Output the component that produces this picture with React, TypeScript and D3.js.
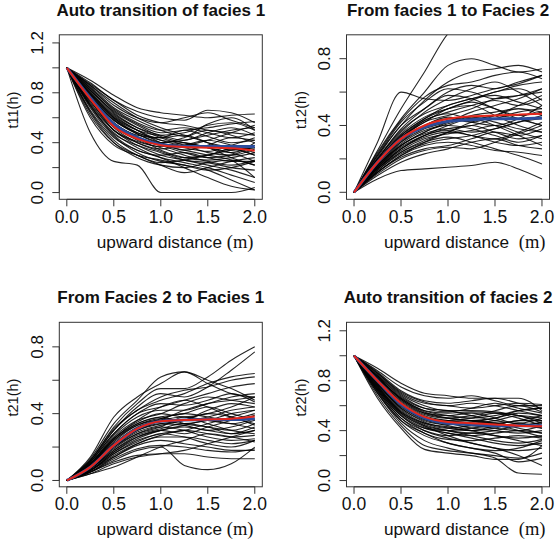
import React from "react";
import * as d3 from "d3";

// upward distance sample points (m)
const distances = [0, 0.25, 0.5, 0.75, 1.0, 1.25, 1.5, 1.75, 2.0];
const xTicks = [0, 0.5, 1.0, 1.5, 2.0];

// ---- t11: auto transition of facies 1 ----
const t11Sims = [
  [1, 0.48, 0.25, 0.22, 0.0, 0.0, 0.0, 0.0, 0.04],
  [1, 0.9, 0.78, 0.68, 0.64, 0.62, 0.6, 0.62, 0.63],
  [1, 0.88, 0.74, 0.65, 0.6, 0.58, 0.66, 0.64, 0.56],
  [1, 0.86, 0.7, 0.6, 0.56, 0.6, 0.64, 0.58, 0.52],
  [1, 0.85, 0.68, 0.58, 0.5, 0.45, 0.55, 0.6, 0.5],
  [1, 0.84, 0.66, 0.55, 0.48, 0.5, 0.52, 0.55, 0.57],
  [1, 0.82, 0.63, 0.52, 0.46, 0.42, 0.48, 0.52, 0.46],
  [1, 0.8, 0.62, 0.5, 0.42, 0.38, 0.42, 0.48, 0.54],
  [1, 0.8, 0.6, 0.48, 0.44, 0.5, 0.45, 0.4, 0.42],
  [1, 0.78, 0.58, 0.47, 0.4, 0.36, 0.33, 0.38, 0.44],
  [1, 0.78, 0.56, 0.45, 0.38, 0.32, 0.28, 0.3, 0.38],
  [1, 0.76, 0.55, 0.44, 0.4, 0.44, 0.5, 0.46, 0.4],
  [1, 0.75, 0.54, 0.42, 0.36, 0.3, 0.25, 0.22, 0.26],
  [1, 0.74, 0.52, 0.4, 0.33, 0.28, 0.3, 0.35, 0.3],
  [1, 0.74, 0.5, 0.38, 0.3, 0.26, 0.22, 0.18, 0.12],
  [1, 0.72, 0.5, 0.4, 0.35, 0.38, 0.42, 0.38, 0.32],
  [1, 0.7, 0.48, 0.36, 0.28, 0.24, 0.2, 0.14, 0.08],
  [1, 0.7, 0.46, 0.34, 0.3, 0.32, 0.28, 0.25, 0.25],
  [1, 0.68, 0.45, 0.32, 0.25, 0.22, 0.18, 0.1, 0.02],
  [1, 0.66, 0.44, 0.34, 0.28, 0.2, 0.12, 0.05, 0.02],
  [1, 0.65, 0.42, 0.3, 0.24, 0.26, 0.3, 0.34, 0.36],
  [1, 0.62, 0.4, 0.3, 0.22, 0.16, 0.2, 0.25, 0.28],
  [1, 0.6, 0.38, 0.3, 0.26, 0.22, 0.18, 0.2, 0.25],
  [1, 0.82, 0.65, 0.54, 0.45, 0.4, 0.36, 0.32, 0.25],
  [1, 0.86, 0.72, 0.6, 0.52, 0.46, 0.4, 0.36, 0.3],
  [1, 0.84, 0.67, 0.56, 0.5, 0.52, 0.48, 0.44, 0.48],
  [1, 0.77, 0.58, 0.48, 0.42, 0.4, 0.36, 0.28, 0.22],
  [1, 0.79, 0.6, 0.5, 0.46, 0.48, 0.54, 0.56, 0.5],
  [1, 0.73, 0.53, 0.43, 0.38, 0.34, 0.3, 0.26, 0.12],
  [1, 0.76, 0.56, 0.46, 0.44, 0.46, 0.4, 0.34, 0.36],
  [1, 0.71, 0.5, 0.41, 0.37, 0.4, 0.36, 0.32, 0.4],
  [1, 0.81, 0.61, 0.5, 0.4, 0.34, 0.38, 0.44, 0.42],
  [1, 0.69, 0.47, 0.38, 0.32, 0.26, 0.24, 0.2, 0.18],
  [1, 0.87, 0.74, 0.62, 0.56, 0.54, 0.5, 0.48, 0.46],
  [1, 0.79, 0.59, 0.47, 0.4, 0.42, 0.46, 0.5, 0.52],
  [1, 0.64, 0.4, 0.28, 0.22, 0.2, 0.24, 0.26, 0.22],
  [1, 0.75, 0.55, 0.44, 0.34, 0.28, 0.26, 0.28, 0.32],
  [1, 0.83, 0.64, 0.52, 0.44, 0.38, 0.32, 0.3, 0.35],
];
const t11Blue = [1, 0.76, 0.55, 0.44, 0.385, 0.37, 0.37, 0.37, 0.37];
const t11Red = [1, 0.75, 0.53, 0.43, 0.38, 0.365, 0.36, 0.355, 0.335];

// ---- t12: from facies 1 to facies 2 ----
const t12Sims = [
  [0, 0.25, 0.5, 0.72, 0.95, 1.05, 1.1, 1.1, 1.1],
  [0, 0.3, 0.6, 0.56, 0.55, 0.58, 0.62, 0.65, 0.7],
  [0, 0.24, 0.44, 0.6, 0.76, 0.8, 0.76, 0.72, 0.74],
  [0, 0.22, 0.4, 0.55, 0.66, 0.72, 0.74, 0.76, 0.72],
  [0, 0.2, 0.38, 0.5, 0.6, 0.64, 0.62, 0.66, 0.7],
  [0, 0.2, 0.36, 0.48, 0.56, 0.62, 0.66, 0.6, 0.52],
  [0, 0.19, 0.34, 0.44, 0.52, 0.56, 0.6, 0.64, 0.66],
  [0, 0.18, 0.33, 0.42, 0.5, 0.54, 0.5, 0.46, 0.48],
  [0, 0.18, 0.32, 0.42, 0.46, 0.5, 0.56, 0.58, 0.6],
  [0, 0.17, 0.31, 0.4, 0.45, 0.42, 0.4, 0.44, 0.52],
  [0, 0.17, 0.3, 0.38, 0.42, 0.46, 0.48, 0.5, 0.46],
  [0, 0.16, 0.29, 0.37, 0.4, 0.38, 0.34, 0.3, 0.34],
  [0, 0.16, 0.28, 0.36, 0.41, 0.45, 0.42, 0.38, 0.36],
  [0, 0.15, 0.27, 0.34, 0.38, 0.4, 0.44, 0.48, 0.5],
  [0, 0.15, 0.26, 0.33, 0.36, 0.34, 0.3, 0.28, 0.3],
  [0, 0.14, 0.25, 0.32, 0.35, 0.37, 0.4, 0.36, 0.32],
  [0, 0.14, 0.24, 0.3, 0.33, 0.3, 0.26, 0.22, 0.17],
  [0, 0.13, 0.23, 0.29, 0.32, 0.34, 0.38, 0.42, 0.44],
  [0, 0.12, 0.22, 0.28, 0.3, 0.28, 0.25, 0.24, 0.22],
  [0, 0.12, 0.21, 0.26, 0.28, 0.32, 0.36, 0.34, 0.38],
  [0, 0.11, 0.2, 0.25, 0.27, 0.26, 0.3, 0.35, 0.4],
  [0, 0.1, 0.18, 0.23, 0.26, 0.3, 0.32, 0.28, 0.26],
  [0, 0.08, 0.13, 0.14, 0.15, 0.16, 0.18, 0.14, 0.08],
  [0, 0.22, 0.42, 0.54, 0.62, 0.6, 0.56, 0.58, 0.62],
  [0, 0.21, 0.4, 0.5, 0.58, 0.56, 0.5, 0.44, 0.4],
  [0, 0.19, 0.35, 0.45, 0.5, 0.52, 0.46, 0.4, 0.36],
  [0, 0.17, 0.32, 0.43, 0.48, 0.52, 0.55, 0.52, 0.56],
  [0, 0.16, 0.3, 0.4, 0.44, 0.42, 0.46, 0.52, 0.58],
  [0, 0.15, 0.28, 0.36, 0.42, 0.48, 0.52, 0.56, 0.62],
  [0, 0.14, 0.26, 0.34, 0.4, 0.44, 0.4, 0.34, 0.28],
  [0, 0.13, 0.24, 0.31, 0.36, 0.4, 0.36, 0.32, 0.34],
  [0, 0.18, 0.33, 0.43, 0.47, 0.44, 0.46, 0.5, 0.48],
  [0, 0.2, 0.37, 0.47, 0.52, 0.56, 0.58, 0.54, 0.5],
  [0, 0.16, 0.28, 0.35, 0.38, 0.36, 0.38, 0.42, 0.46],
  [0, 0.12, 0.22, 0.3, 0.36, 0.42, 0.46, 0.44, 0.4],
  [0, 0.23, 0.43, 0.57, 0.64, 0.66, 0.7, 0.72, 0.68],
  [0, 0.14, 0.26, 0.34, 0.37, 0.34, 0.32, 0.36, 0.42],
  [0, 0.18, 0.34, 0.44, 0.5, 0.55, 0.6, 0.62, 0.55],
];
const t12Blue = [0, 0.18, 0.32, 0.39, 0.425, 0.435, 0.44, 0.44, 0.445];
const t12Red = [0, 0.18, 0.32, 0.4, 0.44, 0.455, 0.46, 0.465, 0.47];

// ---- t21: from facies 2 to facies 1 ----
const t21Sims = [
  [0, 0.14, 0.38, 0.5, 0.58, 0.65, 0.6, 0.55, 0.48],
  [0, 0.13, 0.34, 0.48, 0.62, 0.65, 0.58, 0.52, 0.5],
  [0, 0.12, 0.32, 0.46, 0.55, 0.55, 0.62, 0.72, 0.8],
  [0, 0.12, 0.3, 0.44, 0.52, 0.5, 0.56, 0.66, 0.77],
  [0, 0.11, 0.3, 0.42, 0.48, 0.52, 0.58, 0.62, 0.64],
  [0, 0.11, 0.28, 0.4, 0.44, 0.48, 0.52, 0.56, 0.58],
  [0, 0.1, 0.27, 0.38, 0.42, 0.42, 0.46, 0.5, 0.52],
  [0, 0.1, 0.26, 0.36, 0.4, 0.46, 0.5, 0.48, 0.46],
  [0, 0.09, 0.25, 0.35, 0.4, 0.38, 0.4, 0.44, 0.5],
  [0, 0.09, 0.24, 0.34, 0.38, 0.4, 0.44, 0.4, 0.36],
  [0, 0.09, 0.23, 0.33, 0.36, 0.34, 0.36, 0.4, 0.42],
  [0, 0.08, 0.22, 0.32, 0.36, 0.38, 0.34, 0.3, 0.28],
  [0, 0.08, 0.21, 0.3, 0.34, 0.33, 0.3, 0.32, 0.36],
  [0, 0.08, 0.2, 0.29, 0.33, 0.36, 0.4, 0.38, 0.33],
  [0, 0.07, 0.19, 0.28, 0.32, 0.3, 0.26, 0.24, 0.25],
  [0, 0.07, 0.18, 0.27, 0.31, 0.34, 0.32, 0.28, 0.3],
  [0, 0.07, 0.17, 0.26, 0.3, 0.28, 0.32, 0.36, 0.4],
  [0, 0.06, 0.16, 0.24, 0.28, 0.3, 0.34, 0.38, 0.42],
  [0, 0.06, 0.15, 0.22, 0.26, 0.26, 0.24, 0.22, 0.24],
  [0, 0.06, 0.14, 0.21, 0.24, 0.22, 0.2, 0.18, 0.18],
  [0, 0.05, 0.13, 0.19, 0.21, 0.2, 0.18, 0.17, 0.19],
  [0, 0.05, 0.12, 0.18, 0.2, 0.09, 0.065, 0.1, 0.2],
  [0, 0.05, 0.11, 0.15, 0.16, 0.16, 0.14, 0.13, 0.13],
  [0, 0.04, 0.1, 0.14, 0.16, 0.18, 0.22, 0.26, 0.3],
  [0, 0.04, 0.08, 0.14, 0.2, 0.24, 0.28, 0.26, 0.23],
  [0, 0.07, 0.2, 0.3, 0.36, 0.42, 0.46, 0.48, 0.5],
  [0, 0.1, 0.25, 0.36, 0.44, 0.48, 0.44, 0.38, 0.34],
  [0, 0.09, 0.24, 0.33, 0.37, 0.36, 0.38, 0.42, 0.44],
  [0, 0.06, 0.17, 0.25, 0.3, 0.33, 0.36, 0.34, 0.31],
  [0, 0.05, 0.14, 0.22, 0.27, 0.3, 0.28, 0.26, 0.27],
  [0, 0.08, 0.21, 0.31, 0.37, 0.4, 0.38, 0.36, 0.39],
  [0, 0.11, 0.28, 0.4, 0.46, 0.45, 0.48, 0.52, 0.47],
  [0, 0.09, 0.22, 0.3, 0.34, 0.36, 0.42, 0.46, 0.44],
  [0, 0.06, 0.16, 0.23, 0.28, 0.26, 0.22, 0.2, 0.24],
  [0, 0.08, 0.2, 0.28, 0.32, 0.38, 0.36, 0.34, 0.37],
  [0, 0.12, 0.31, 0.42, 0.5, 0.54, 0.56, 0.6, 0.62],
  [0, 0.07, 0.18, 0.26, 0.3, 0.32, 0.3, 0.28, 0.32],
  [0, 0.1, 0.25, 0.34, 0.38, 0.34, 0.32, 0.3, 0.34],
];
const t21Blue = [0, 0.08, 0.21, 0.31, 0.355, 0.362, 0.365, 0.365, 0.37];
const t21Red = [0, 0.08, 0.21, 0.31, 0.355, 0.362, 0.365, 0.37, 0.383];

// ---- t22: auto transition of facies 2 ----
const t22Sims = [
  [1, 0.9, 0.78, 0.7, 0.68, 0.66, 0.66, 0.62, 0.58],
  [1, 0.88, 0.75, 0.68, 0.66, 0.68, 0.64, 0.6, 0.6],
  [1, 0.87, 0.72, 0.64, 0.62, 0.64, 0.66, 0.66, 0.56],
  [1, 0.86, 0.7, 0.62, 0.6, 0.58, 0.6, 0.62, 0.61],
  [1, 0.85, 0.69, 0.6, 0.56, 0.56, 0.55, 0.52, 0.48],
  [1, 0.84, 0.68, 0.58, 0.55, 0.58, 0.62, 0.58, 0.54],
  [1, 0.83, 0.66, 0.56, 0.52, 0.5, 0.52, 0.56, 0.58],
  [1, 0.82, 0.65, 0.55, 0.5, 0.48, 0.46, 0.48, 0.52],
  [1, 0.81, 0.64, 0.54, 0.52, 0.54, 0.5, 0.45, 0.42],
  [1, 0.8, 0.62, 0.52, 0.48, 0.46, 0.48, 0.52, 0.5],
  [1, 0.8, 0.61, 0.5, 0.46, 0.42, 0.4, 0.38, 0.4],
  [1, 0.79, 0.6, 0.5, 0.48, 0.5, 0.54, 0.52, 0.46],
  [1, 0.78, 0.58, 0.48, 0.44, 0.4, 0.36, 0.34, 0.36],
  [1, 0.77, 0.57, 0.46, 0.42, 0.44, 0.46, 0.42, 0.38],
  [1, 0.76, 0.56, 0.45, 0.4, 0.36, 0.32, 0.3, 0.33],
  [1, 0.75, 0.54, 0.44, 0.4, 0.38, 0.4, 0.44, 0.46],
  [1, 0.74, 0.53, 0.42, 0.38, 0.34, 0.3, 0.28, 0.3],
  [1, 0.73, 0.52, 0.4, 0.34, 0.3, 0.26, 0.2, 0.12],
  [1, 0.72, 0.5, 0.38, 0.33, 0.32, 0.34, 0.36, 0.34],
  [1, 0.71, 0.48, 0.36, 0.3, 0.26, 0.22, 0.15, 0.18],
  [1, 0.7, 0.46, 0.32, 0.26, 0.22, 0.18, 0.06, 0.05],
  [1, 0.68, 0.44, 0.28, 0.24, 0.22, 0.2, 0.18, 0.22],
  [1, 0.66, 0.42, 0.25, 0.22, 0.2, 0.17, 0.17, 0.28],
  [1, 0.82, 0.66, 0.56, 0.54, 0.55, 0.54, 0.5, 0.44],
  [1, 0.84, 0.67, 0.58, 0.56, 0.52, 0.48, 0.46, 0.5],
  [1, 0.78, 0.59, 0.49, 0.45, 0.47, 0.5, 0.56, 0.58],
  [1, 0.76, 0.55, 0.46, 0.43, 0.4, 0.42, 0.46, 0.42],
  [1, 0.74, 0.54, 0.43, 0.38, 0.36, 0.38, 0.4, 0.38],
  [1, 0.81, 0.63, 0.53, 0.5, 0.52, 0.56, 0.6, 0.55],
  [1, 0.79, 0.6, 0.49, 0.46, 0.44, 0.42, 0.4, 0.44],
  [1, 0.72, 0.5, 0.4, 0.36, 0.38, 0.36, 0.32, 0.28],
  [1, 0.7, 0.48, 0.38, 0.3, 0.26, 0.24, 0.26, 0.32],
  [1, 0.83, 0.65, 0.54, 0.5, 0.48, 0.5, 0.54, 0.52],
  [1, 0.77, 0.58, 0.47, 0.42, 0.4, 0.44, 0.48, 0.48],
  [1, 0.75, 0.55, 0.44, 0.36, 0.3, 0.26, 0.24, 0.26],
  [1, 0.86, 0.71, 0.63, 0.6, 0.62, 0.6, 0.56, 0.52],
  [1, 0.8, 0.62, 0.51, 0.47, 0.48, 0.46, 0.44, 0.47],
  [1, 0.73, 0.52, 0.42, 0.4, 0.42, 0.44, 0.4, 0.35],
];
const t22Blue = [1, 0.8, 0.61, 0.5, 0.46, 0.45, 0.44, 0.44, 0.44];
const t22Red = [1, 0.8, 0.62, 0.51, 0.47, 0.46, 0.45, 0.44, 0.435];

const titles = [
  "Auto transition of facies 1",
  "From facies 1 to Facies 2",
  "From Facies 2 to Facies 1",
  "Auto transition of facies 2",
];
const yLabels = ["t11(h)", "t12(h)", "t21(h)", "t22(h)"];
const yTicksHigh = [0, 0.2, 0.4, 0.6, 0.8, 1.0, 1.2];
const yTicksLow = [0, 0.2, 0.4, 0.6, 0.8];
const yLabelsHigh = [0, 0.4, 0.8, 1.2];
const yLabelsLow = [0, 0.4, 0.8];

const W = 557;
const H = 546;
const SANS = "'Liberation Sans', Arial, Helvetica, sans-serif";
const SERIF = "'Liberation Serif', 'Times New Roman', serif";

type PanelCfg = {
  left: number;
  top: number;
  sims: number[][];
  blue: number[];
  red: number[];
  yDomain: [number, number];
  yTicks: number[];
  yTickLabels: number[];
  title: string;
  yLabel: string;
  gap: string;
};

const BOX_W = 203;
const BOX_H = 164.5;

const panels: PanelCfg[] = [
  { left: 59.3, top: 34.8, sims: t11Sims, blue: t11Blue, red: t11Red, yDomain: [-0.054, 1.265], yTicks: yTicksHigh, yTickLabels: yLabelsHigh, title: titles[0], yLabel: yLabels[0], gap: " " },
  { left: 346.5, top: 34.8, sims: t12Sims, blue: t12Blue, red: t12Red, yDomain: [-0.042, 0.943], yTicks: yTicksLow, yTickLabels: yLabelsLow, title: titles[1], yLabel: yLabels[1], gap: "\u00a0\u00a0" },
  { left: 59.3, top: 322.3, sims: t21Sims, blue: t21Blue, red: t21Red, yDomain: [-0.038, 0.947], yTicks: yTicksLow, yTickLabels: yLabelsLow, title: titles[2], yLabel: yLabels[2], gap: " " },
  { left: 346.5, top: 322.3, sims: t22Sims, blue: t22Blue, red: t22Red, yDomain: [-0.05, 1.268], yTicks: yTicksHigh, yTickLabels: yLabelsHigh, title: titles[3], yLabel: yLabels[3], gap: "\u00a0\u00a0" },
];

function Panel({ cfg, idx }: { cfg: PanelCfg; idx: number }) {
  const { left, top } = cfg;
  const right = left + BOX_W;
  const bottom = top + BOX_H;
  const x = d3.scaleLinear().domain([-0.08, 2.08]).range([left, right]);
  const y = d3.scaleLinear().domain(cfg.yDomain).range([bottom, top]);
  const line = d3
    .line<number>()
    .x((_, i) => x(distances[i]))
    .y((v) => y(v))
    .curve(d3.curveMonotoneX);
  const clipId = `clip-${idx}`;
  const cx = (left + right) / 2;
  const cy = (top + bottom) / 2;
  const tickLen = 7;
  const axisColor = "#333";
  return (
    <g>
      <defs>
        <clipPath id={clipId}>
          <rect x={left} y={top} width={BOX_W} height={BOX_H} />
        </clipPath>
      </defs>
      <g clipPath={`url(#${clipId})`}>
        {cfg.sims.map((s, i) => (
          <path key={i} d={line(s) || ""} fill="none" stroke="#000" strokeOpacity={0.85} strokeWidth={1.1} />
        ))}
        <path d={line(cfg.blue) || ""} fill="none" stroke="#2b4c9b" strokeWidth={3} />
        <path d={line(cfg.red) || ""} fill="none" stroke="#e3261c" strokeWidth={2} />
      </g>
      <rect x={left} y={top} width={BOX_W} height={BOX_H} fill="none" stroke={axisColor} strokeWidth={1} />
      {/* x axis */}
      <line x1={x(xTicks[0])} x2={x(xTicks[xTicks.length - 1])} y1={bottom} y2={bottom} stroke={axisColor} />
      {xTicks.map((t) => (
        <g key={t}>
          <line x1={x(t)} x2={x(t)} y1={bottom} y2={bottom + tickLen} stroke={axisColor} />
          <text x={x(t)} y={bottom + 23.5} textAnchor="middle" fontFamily={SANS} fontSize={17.5} fill="#111">
            {d3.format(".1f")(t)}
          </text>
        </g>
      ))}
      {/* y axis */}
      <line x1={left} x2={left} y1={y(cfg.yTicks[0])} y2={y(cfg.yTicks[cfg.yTicks.length - 1])} stroke={axisColor} />
      {cfg.yTicks.map((t) => (
        <line key={t} x1={left} x2={left - tickLen} y1={y(t)} y2={y(t)} stroke={axisColor} />
      ))}
      {cfg.yTickLabels.map((t) => (
        <text
          key={t}
          transform={`translate(${left - 16.6},${y(t)}) rotate(-90)`}
          textAnchor="middle"
          fontFamily={SANS}
          fontSize={17}
          fill="#111"
        >
          {d3.format(".1f")(t)}
        </text>
      ))}
      {/* title */}
      <text x={cx} y={top - 19} textAnchor="middle" fontFamily={SANS} fontWeight="bold" fontSize={17} fill="#111">
        {cfg.title}
      </text>
      {/* y label */}
      <text
        transform={`translate(${left - 41},${cy - 7}) rotate(-90)`}
        textAnchor="middle"
        fontFamily={SANS}
        fontSize={14.5}
        fill="#111"
      >
        {cfg.yLabel}
      </text>
      {/* x label */}
      <text x={left + 37.5} y={bottom + 48.5} fontFamily={SANS} fontSize={17.2} fill="#111">
        upward distance{cfg.gap}
        <tspan fontFamily={SERIF} fontSize={18.5}>(m)</tspan>
      </text>
    </g>
  );
}

export default function App() {
  return (
    <svg
      width={W}
      height={H}
      viewBox={`0 0 ${W} ${H}`}
      style={{ position: "absolute", left: 0, top: 0, background: "#fff" }}
    >
      <rect x={0} y={0} width={W} height={H} fill="#fff" />
      {panels.map((p, i) => (
        <Panel key={i} cfg={p} idx={i} />
      ))}
    </svg>
  );
}
